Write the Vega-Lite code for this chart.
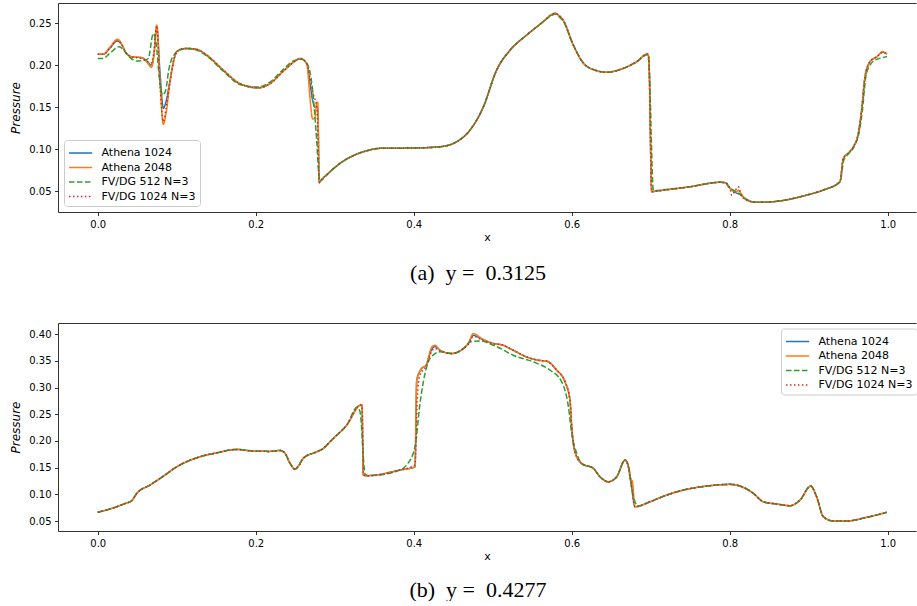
{
"$schema": "https://vega.github.io/schema/vega-lite/v6.json",
"background": "white",
"padding": {"left": 9, "top": 3, "right": 0, "bottom": 0},
"spacing": 111,
"bounds": "flush",
"config": {
  "view": {"stroke": null},
  "font": "DejaVu Sans",
  "axis": {"domainColor": "#000", "domainWidth": 0.8, "tickColor": "#000", "tickWidth": 0.8, "tickSize": 3.5, "labelFont": "DejaVu Sans", "labelFontSize": 10, "labelColor": "#000", "labelPadding": 3.5, "grid": false, "titleFont": "DejaVu Sans", "titleFontWeight": "normal", "titleFontSize": 11, "titleColor": "#000", "labelFlush": false},
  "legend": {"symbolType": "M-1,0H1.9", "symbolStrokeWidth": 1.5, "symbolSize": 256, "labelFont": "DejaVu Sans", "labelFontSize": 11, "labelColor": "#000", "padding": 4, "strokeColor": "#cccccc", "fillColor": "rgba(255,255,255,0.8)", "cornerRadius": 3, "rowPadding": 0.5, "labelOffset": 15.5}
},
"datasets": {
"a": [
{"s":"A1","x":0,"y":0.213},{"s":"A1","x":0.007,"y":0.213},{"s":"A1","x":0.015,"y":0.220},{"s":"A1","x":0.025,"y":0.229},{"s":"A1","x":0.030,"y":0.225},{"s":"A1","x":0.035,"y":0.216},{"s":"A1","x":0.043,"y":0.210},{"s":"A1","x":0.050,"y":0.2095},{"s":"A1","x":0.056,"y":0.209},{"s":"A1","x":0.062,"y":0.205},{"s":"A1","x":0.068,"y":0.200},{"s":"A1","x":0.071,"y":0.212},{"s":"A1","x":0.0747,"y":0.245},{"s":"A1","x":0.0789,"y":0.19},{"s":"A1","x":0.083,"y":0.1486},{"s":"A1","x":0.086,"y":0.155},{"s":"A1","x":0.0915,"y":0.182},{"s":"A1","x":0.096,"y":0.205},{"s":"A1","x":0.101,"y":0.217},{"s":"A1","x":0.113,"y":0.220},{"s":"A1","x":0.125,"y":0.219},{"s":"A1","x":0.138,"y":0.212},{"s":"A1","x":0.159,"y":0.194},{"s":"A1","x":0.180,"y":0.178},{"s":"A1","x":0.203,"y":0.173},{"s":"A1","x":0.218,"y":0.178},{"s":"A1","x":0.235,"y":0.193},{"s":"A1","x":0.250,"y":0.205},{"s":"A1","x":0.256,"y":0.208},{"s":"A1","x":0.2646,"y":0.202},{"s":"A1","x":0.2687,"y":0.178},{"s":"A1","x":0.272,"y":0.158},{"s":"A1","x":0.275,"y":0.150},{"s":"A1","x":0.2772,"y":0.150},{"s":"A1","x":0.2785,"y":0.148},{"s":"A1","x":0.2805,"y":0.060},
{"s":"A1","x":0.283,"y":0.063},{"s":"A1","x":0.294,"y":0.073},{"s":"A1","x":0.3067,"y":0.083},{"s":"A1","x":0.323,"y":0.092},{"s":"A1","x":0.3405,"y":0.098},{"s":"A1","x":0.3573,"y":0.1009},{"s":"A1","x":0.3995,"y":0.1013},{"s":"A1","x":0.4333,"y":0.1028},{"s":"A1","x":0.4544,"y":0.1088},{"s":"A1","x":0.4713,"y":0.1227},{"s":"A1","x":0.488,"y":0.150},{"s":"A1","x":0.505,"y":0.1943},{"s":"A1","x":0.522,"y":0.218},{"s":"A1","x":0.543,"y":0.236},{"s":"A1","x":0.564,"y":0.252},{"s":"A1","x":0.574,"y":0.260},{"s":"A1","x":0.5789,"y":0.262},{"s":"A1","x":0.584,"y":0.259},{"s":"A1","x":0.589,"y":0.254},{"s":"A1","x":0.602,"y":0.224},{"s":"A1","x":0.615,"y":0.2023},{"s":"A1","x":0.630,"y":0.194},{"s":"A1","x":0.644,"y":0.1916},{"s":"A1","x":0.6653,"y":0.1963},{"s":"A1","x":0.6823,"y":0.2042},{"s":"A1","x":0.6957,"y":0.2134},
{"s":"A1","x":0.6975,"y":0.210},{"s":"A1","x":0.7013,"y":0.0492},{"s":"A1","x":0.7076,"y":0.050},{"s":"A1","x":0.7497,"y":0.0551},{"s":"A1","x":0.7877,"y":0.0604},{"s":"A1","x":0.7941,"y":0.060},{"s":"A1","x":0.8003,"y":0.0532},{"s":"A1","x":0.8088,"y":0.0475},{"s":"A1","x":0.8135,"y":0.046},{"s":"A1","x":0.8215,"y":0.0393},{"s":"A1","x":0.834,"y":0.0365},{"s":"A1","x":0.855,"y":0.0373},{"s":"A1","x":0.8975,"y":0.0452},{"s":"A1","x":0.9185,"y":0.0512},{"s":"A1","x":0.9396,"y":0.0611},{"s":"A1","x":0.9438,"y":0.089},{"s":"A1","x":0.950,"y":0.095},{"s":"A1","x":0.9565,"y":0.1028},{"s":"A1","x":0.9628,"y":0.1188},{"s":"A1","x":0.967,"y":0.1466},{"s":"A1","x":0.9713,"y":0.1863},{"s":"A1","x":0.9776,"y":0.2042},{"s":"A1","x":0.986,"y":0.210},{"s":"A1","x":0.9937,"y":0.2155},{"s":"A1","x":0.999,"y":0.2134},

{"s":"A2","x":0,"y":0.213},{"s":"A2","x":0.007,"y":0.213},{"s":"A2","x":0.015,"y":0.221},{"s":"A2","x":0.025,"y":0.231},{"s":"A2","x":0.030,"y":0.226},{"s":"A2","x":0.035,"y":0.216},{"s":"A2","x":0.043,"y":0.210},{"s":"A2","x":0.050,"y":0.2095},{"s":"A2","x":0.056,"y":0.209},{"s":"A2","x":0.062,"y":0.204},{"s":"A2","x":0.068,"y":0.1975},{"s":"A2","x":0.071,"y":0.210},{"s":"A2","x":0.0747,"y":0.248},{"s":"A2","x":0.0789,"y":0.180},{"s":"A2","x":0.083,"y":0.1295},{"s":"A2","x":0.086,"y":0.140},{"s":"A2","x":0.0915,"y":0.180},{"s":"A2","x":0.096,"y":0.205},{"s":"A2","x":0.101,"y":0.217},{"s":"A2","x":0.113,"y":0.220},{"s":"A2","x":0.125,"y":0.219},{"s":"A2","x":0.138,"y":0.212},{"s":"A2","x":0.159,"y":0.194},{"s":"A2","x":0.180,"y":0.178},{"s":"A2","x":0.203,"y":0.173},{"s":"A2","x":0.218,"y":0.178},{"s":"A2","x":0.235,"y":0.193},{"s":"A2","x":0.250,"y":0.205},{"s":"A2","x":0.256,"y":0.208},{"s":"A2","x":0.2646,"y":0.202},{"s":"A2","x":0.2687,"y":0.1606},{"s":"A2","x":0.272,"y":0.136},{"s":"A2","x":0.275,"y":0.138},{"s":"A2","x":0.2772,"y":0.1558},{"s":"A2","x":0.2785,"y":0.1558},{"s":"A2","x":0.2805,"y":0.060},
{"s":"A2","x":0.283,"y":0.063},{"s":"A2","x":0.294,"y":0.073},{"s":"A2","x":0.3067,"y":0.083},{"s":"A2","x":0.323,"y":0.092},{"s":"A2","x":0.3405,"y":0.098},{"s":"A2","x":0.3573,"y":0.1009},{"s":"A2","x":0.3995,"y":0.1013},{"s":"A2","x":0.4333,"y":0.1028},{"s":"A2","x":0.4544,"y":0.1088},{"s":"A2","x":0.4713,"y":0.1227},{"s":"A2","x":0.488,"y":0.150},{"s":"A2","x":0.505,"y":0.1943},{"s":"A2","x":0.522,"y":0.218},{"s":"A2","x":0.543,"y":0.236},{"s":"A2","x":0.564,"y":0.252},{"s":"A2","x":0.574,"y":0.260},{"s":"A2","x":0.5789,"y":0.262},{"s":"A2","x":0.584,"y":0.259},{"s":"A2","x":0.589,"y":0.254},{"s":"A2","x":0.602,"y":0.224},{"s":"A2","x":0.615,"y":0.2023},{"s":"A2","x":0.630,"y":0.194},{"s":"A2","x":0.644,"y":0.1916},{"s":"A2","x":0.6653,"y":0.1963},{"s":"A2","x":0.6823,"y":0.2042},{"s":"A2","x":0.6957,"y":0.2134},
{"s":"A2","x":0.6975,"y":0.210},{"s":"A2","x":0.7013,"y":0.0492},{"s":"A2","x":0.7076,"y":0.050},{"s":"A2","x":0.7497,"y":0.0551},{"s":"A2","x":0.7877,"y":0.0604},{"s":"A2","x":0.7941,"y":0.060},{"s":"A2","x":0.8003,"y":0.0532},{"s":"A2","x":0.8088,"y":0.0492},{"s":"A2","x":0.811,"y":0.051},{"s":"A2","x":0.8135,"y":0.048},{"s":"A2","x":0.8215,"y":0.0393},{"s":"A2","x":0.834,"y":0.0365},{"s":"A2","x":0.855,"y":0.0373},{"s":"A2","x":0.8975,"y":0.0452},{"s":"A2","x":0.9185,"y":0.0512},{"s":"A2","x":0.9396,"y":0.0611},{"s":"A2","x":0.9438,"y":0.089},{"s":"A2","x":0.950,"y":0.095},{"s":"A2","x":0.9565,"y":0.1028},{"s":"A2","x":0.9628,"y":0.1188},{"s":"A2","x":0.967,"y":0.1466},{"s":"A2","x":0.9713,"y":0.1863},{"s":"A2","x":0.9776,"y":0.2042},{"s":"A2","x":0.986,"y":0.210},{"s":"A2","x":0.9937,"y":0.2161},{"s":"A2","x":0.999,"y":0.2134},

{"s":"G5","x":0,"y":0.208},{"s":"G5","x":0.007,"y":0.208},{"s":"G5","x":0.015,"y":0.214},{"s":"G5","x":0.027,"y":0.222},{"s":"G5","x":0.033,"y":0.218},{"s":"G5","x":0.040,"y":0.210},{"s":"G5","x":0.050,"y":0.205},{"s":"G5","x":0.058,"y":0.2055},{"s":"G5","x":0.064,"y":0.208},{"s":"G5","x":0.0704,"y":0.238},{"s":"G5","x":0.074,"y":0.225},{"s":"G5","x":0.078,"y":0.185},{"s":"G5","x":0.082,"y":0.1645},{"s":"G5","x":0.086,"y":0.170},{"s":"G5","x":0.090,"y":0.195},{"s":"G5","x":0.097,"y":0.213},{"s":"G5","x":0.105,"y":0.219},{"s":"G5","x":0.113,"y":0.220},{"s":"G5","x":0.125,"y":0.218},{"s":"G5","x":0.138,"y":0.211},{"s":"G5","x":0.159,"y":0.193},{"s":"G5","x":0.180,"y":0.177},{"s":"G5","x":0.203,"y":0.174},{"s":"G5","x":0.218,"y":0.180},{"s":"G5","x":0.235,"y":0.195},{"s":"G5","x":0.250,"y":0.206},{"s":"G5","x":0.258,"y":0.207},{"s":"G5","x":0.264,"y":0.203},{"s":"G5","x":0.268,"y":0.195},{"s":"G5","x":0.272,"y":0.170},{"s":"G5","x":0.2765,"y":0.120},{"s":"G5","x":0.281,"y":0.062},
{"s":"G5","x":0.283,"y":0.063},{"s":"G5","x":0.294,"y":0.073},{"s":"G5","x":0.3067,"y":0.083},{"s":"G5","x":0.323,"y":0.092},{"s":"G5","x":0.3405,"y":0.098},{"s":"G5","x":0.3573,"y":0.1009},{"s":"G5","x":0.3995,"y":0.1013},{"s":"G5","x":0.4333,"y":0.1028},{"s":"G5","x":0.4544,"y":0.1088},{"s":"G5","x":0.4713,"y":0.1227},{"s":"G5","x":0.488,"y":0.150},{"s":"G5","x":0.505,"y":0.1943},{"s":"G5","x":0.522,"y":0.218},{"s":"G5","x":0.543,"y":0.236},{"s":"G5","x":0.564,"y":0.252},{"s":"G5","x":0.574,"y":0.259},{"s":"G5","x":0.5789,"y":0.261},{"s":"G5","x":0.584,"y":0.258},{"s":"G5","x":0.589,"y":0.253},{"s":"G5","x":0.602,"y":0.224},{"s":"G5","x":0.615,"y":0.2023},{"s":"G5","x":0.630,"y":0.194},{"s":"G5","x":0.644,"y":0.1916},{"s":"G5","x":0.6653,"y":0.1963},{"s":"G5","x":0.6823,"y":0.2042},{"s":"G5","x":0.6957,"y":0.2125},
{"s":"G5","x":0.6975,"y":0.205},{"s":"G5","x":0.7035,"y":0.050},{"s":"G5","x":0.7076,"y":0.0505},{"s":"G5","x":0.7497,"y":0.0551},{"s":"G5","x":0.7877,"y":0.0604},{"s":"G5","x":0.7941,"y":0.060},{"s":"G5","x":0.8003,"y":0.054},{"s":"G5","x":0.8088,"y":0.049},{"s":"G5","x":0.8215,"y":0.040},{"s":"G5","x":0.834,"y":0.0365},{"s":"G5","x":0.855,"y":0.0373},{"s":"G5","x":0.8975,"y":0.0452},{"s":"G5","x":0.9185,"y":0.0512},{"s":"G5","x":0.9396,"y":0.0611},{"s":"G5","x":0.9445,"y":0.087},{"s":"G5","x":0.951,"y":0.095},{"s":"G5","x":0.9575,"y":0.103},{"s":"G5","x":0.9638,"y":0.120},{"s":"G5","x":0.968,"y":0.1466},{"s":"G5","x":0.9723,"y":0.1863},{"s":"G5","x":0.9776,"y":0.200},{"s":"G5","x":0.986,"y":0.207},{"s":"G5","x":0.9937,"y":0.209},{"s":"G5","x":0.999,"y":0.2103},

{"s":"R1","x":0,"y":0.213},{"s":"R1","x":0.007,"y":0.213},{"s":"R1","x":0.015,"y":0.220},{"s":"R1","x":0.025,"y":0.229},{"s":"R1","x":0.030,"y":0.225},{"s":"R1","x":0.035,"y":0.216},{"s":"R1","x":0.043,"y":0.210},{"s":"R1","x":0.050,"y":0.209},{"s":"R1","x":0.056,"y":0.208},{"s":"R1","x":0.062,"y":0.205},{"s":"R1","x":0.068,"y":0.203},{"s":"R1","x":0.071,"y":0.215},{"s":"R1","x":0.0747,"y":0.247},{"s":"R1","x":0.0789,"y":0.175},{"s":"R1","x":0.083,"y":0.1327},{"s":"R1","x":0.086,"y":0.145},{"s":"R1","x":0.0915,"y":0.180},{"s":"R1","x":0.096,"y":0.205},{"s":"R1","x":0.101,"y":0.217},{"s":"R1","x":0.113,"y":0.220},{"s":"R1","x":0.125,"y":0.219},{"s":"R1","x":0.138,"y":0.212},{"s":"R1","x":0.159,"y":0.194},{"s":"R1","x":0.180,"y":0.178},{"s":"R1","x":0.203,"y":0.173},{"s":"R1","x":0.218,"y":0.178},{"s":"R1","x":0.235,"y":0.193},{"s":"R1","x":0.250,"y":0.205},{"s":"R1","x":0.256,"y":0.208},{"s":"R1","x":0.2646,"y":0.202},{"s":"R1","x":0.2687,"y":0.185},{"s":"R1","x":0.273,"y":0.165},{"s":"R1","x":0.2775,"y":0.150},{"s":"R1","x":0.2805,"y":0.060},
{"s":"R1","x":0.283,"y":0.063},{"s":"R1","x":0.294,"y":0.073},{"s":"R1","x":0.3067,"y":0.083},{"s":"R1","x":0.323,"y":0.092},{"s":"R1","x":0.3405,"y":0.098},{"s":"R1","x":0.3573,"y":0.1009},{"s":"R1","x":0.3995,"y":0.1013},{"s":"R1","x":0.4333,"y":0.1028},{"s":"R1","x":0.4544,"y":0.1088},{"s":"R1","x":0.4713,"y":0.1227},{"s":"R1","x":0.488,"y":0.150},{"s":"R1","x":0.505,"y":0.1943},{"s":"R1","x":0.522,"y":0.218},{"s":"R1","x":0.543,"y":0.236},{"s":"R1","x":0.564,"y":0.252},{"s":"R1","x":0.574,"y":0.260},{"s":"R1","x":0.5789,"y":0.262},{"s":"R1","x":0.584,"y":0.259},{"s":"R1","x":0.589,"y":0.254},{"s":"R1","x":0.602,"y":0.224},{"s":"R1","x":0.615,"y":0.2023},{"s":"R1","x":0.630,"y":0.194},{"s":"R1","x":0.644,"y":0.1916},{"s":"R1","x":0.6653,"y":0.1963},{"s":"R1","x":0.6823,"y":0.2042},{"s":"R1","x":0.6957,"y":0.2134},
{"s":"R1","x":0.6975,"y":0.210},{"s":"R1","x":0.7013,"y":0.0492},{"s":"R1","x":0.7076,"y":0.050},{"s":"R1","x":0.7497,"y":0.0551},{"s":"R1","x":0.7877,"y":0.0604},{"s":"R1","x":0.7941,"y":0.060},{"s":"R1","x":0.8003,"y":0.0532},{"s":"R1","x":0.8025,"y":0.045},{"s":"R1","x":0.8065,"y":0.050},{"s":"R1","x":0.811,"y":0.055},{"s":"R1","x":0.815,"y":0.044},{"s":"R1","x":0.8215,"y":0.0393},{"s":"R1","x":0.834,"y":0.0365},{"s":"R1","x":0.855,"y":0.0373},{"s":"R1","x":0.8975,"y":0.0452},{"s":"R1","x":0.9185,"y":0.0512},{"s":"R1","x":0.9396,"y":0.0611},{"s":"R1","x":0.9438,"y":0.089},{"s":"R1","x":0.950,"y":0.095},{"s":"R1","x":0.9565,"y":0.1028},{"s":"R1","x":0.9628,"y":0.1188},{"s":"R1","x":0.967,"y":0.1466},{"s":"R1","x":0.9713,"y":0.1863},{"s":"R1","x":0.9776,"y":0.2042},{"s":"R1","x":0.986,"y":0.210},{"s":"R1","x":0.9937,"y":0.2155},{"s":"R1","x":0.999,"y":0.2134}
],
"b": [
{"s":"A1","x":0,"y":0.0663},{"s":"A1","x":0.012,"y":0.071},{"s":"A1","x":0.024,"y":0.0768},{"s":"A1","x":0.035,"y":0.083},{"s":"A1","x":0.043,"y":0.088},{"s":"A1","x":0.0494,"y":0.1018},{"s":"A1","x":0.0662,"y":0.1174},{"s":"A1","x":0.083,"y":0.134},{"s":"A1","x":0.100,"y":0.1516},{"s":"A1","x":0.1295,"y":0.1704},{"s":"A1","x":0.1506,"y":0.1778},{"s":"A1","x":0.176,"y":0.1842},{"s":"A1","x":0.197,"y":0.181},{"s":"A1","x":0.218,"y":0.1805},{"s":"A1","x":0.2308,"y":0.1823},{"s":"A1","x":0.237,"y":0.177},{"s":"A1","x":0.2435,"y":0.158},{"s":"A1","x":0.2497,"y":0.1473},{"s":"A1","x":0.255,"y":0.155},{"s":"A1","x":0.260,"y":0.1674},{"s":"A1","x":0.2772,"y":0.1797},{"s":"A1","x":0.2856,"y":0.186},{"s":"A1","x":0.2919,"y":0.1954},{"s":"A1","x":0.2982,"y":0.2048},{"s":"A1","x":0.3152,"y":0.2297},{"s":"A1","x":0.332,"y":0.2671},{"s":"A1","x":0.3345,"y":0.268},{"s":"A1","x":0.3362,"y":0.1361},{"s":"A1","x":0.3405,"y":0.135},{"s":"A1","x":0.3827,"y":0.1455},{"s":"A1","x":0.4016,"y":0.1517},{"s":"A1","x":0.4038,"y":0.3139},{"s":"A1","x":0.410,"y":0.3358},{"s":"A1","x":0.4156,"y":0.342},{"s":"A1","x":0.4228,"y":0.372},{"s":"A1","x":0.427,"y":0.377},{"s":"A1","x":0.4333,"y":0.370},{"s":"A1","x":0.448,"y":0.3639},{"s":"A1","x":0.4628,"y":0.3732},{"s":"A1","x":0.469,"y":0.3826},{"s":"A1","x":0.4754,"y":0.398},{"s":"A1","x":0.486,"y":0.391},{"s":"A1","x":0.5008,"y":0.3826},{"s":"A1","x":0.5134,"y":0.3794},{"s":"A1","x":0.520,"y":0.3745},{"s":"A1","x":0.526,"y":0.370},{"s":"A1","x":0.543,"y":0.3575},{"s":"A1","x":0.5577,"y":0.3513},{"s":"A1","x":0.5684,"y":0.3496},{"s":"A1","x":0.581,"y":0.3326},{"s":"A1","x":0.5915,"y":0.3108},{"s":"A1","x":0.5978,"y":0.2765},{"s":"A1","x":0.600,"y":0.2265},{"s":"A1","x":0.604,"y":0.1797},{"s":"A1","x":0.6127,"y":0.158},{"s":"A1","x":0.6274,"y":0.1486},{"s":"A1","x":0.6358,"y":0.133},{"s":"A1","x":0.6463,"y":0.1236},{"s":"A1","x":0.657,"y":0.133},{"s":"A1","x":0.6675,"y":0.1642},{"s":"A1","x":0.6717,"y":0.1517},{"s":"A1","x":0.6745,"y":0.130},{"s":"A1","x":0.6801,"y":0.0768},{"s":"A1","x":0.699,"y":0.0861},{"s":"A1","x":0.7203,"y":0.0987},{"s":"A1","x":0.7413,"y":0.108},{"s":"A1","x":0.771,"y":0.1155},{"s":"A1","x":0.8003,"y":0.1187},{"s":"A1","x":0.813,"y":0.1155},{"s":"A1","x":0.830,"y":0.1018},{"s":"A1","x":0.8425,"y":0.0861},{"s":"A1","x":0.8595,"y":0.0818},{"s":"A1","x":0.8763,"y":0.0787},{"s":"A1","x":0.889,"y":0.0893},{"s":"A1","x":0.9025,"y":0.1155},{"s":"A1","x":0.910,"y":0.0955},{"s":"A1","x":0.9185,"y":0.058},{"s":"A1","x":0.931,"y":0.050},{"s":"A1","x":0.948,"y":0.050},{"s":"A1","x":0.9734,"y":0.0569},{"s":"A1","x":0.999,"y":0.0663},

{"s":"A2","x":0,"y":0.0663},{"s":"A2","x":0.012,"y":0.071},{"s":"A2","x":0.024,"y":0.0768},{"s":"A2","x":0.035,"y":0.083},{"s":"A2","x":0.043,"y":0.088},{"s":"A2","x":0.0494,"y":0.1018},{"s":"A2","x":0.0662,"y":0.1174},{"s":"A2","x":0.083,"y":0.134},{"s":"A2","x":0.100,"y":0.1516},{"s":"A2","x":0.1295,"y":0.1704},{"s":"A2","x":0.1506,"y":0.1778},{"s":"A2","x":0.176,"y":0.1842},{"s":"A2","x":0.197,"y":0.181},{"s":"A2","x":0.218,"y":0.1805},{"s":"A2","x":0.2308,"y":0.1823},{"s":"A2","x":0.237,"y":0.177},{"s":"A2","x":0.2435,"y":0.158},{"s":"A2","x":0.2497,"y":0.1473},{"s":"A2","x":0.255,"y":0.155},{"s":"A2","x":0.260,"y":0.1674},{"s":"A2","x":0.2772,"y":0.1797},{"s":"A2","x":0.2856,"y":0.186},{"s":"A2","x":0.2919,"y":0.1954},{"s":"A2","x":0.2982,"y":0.2048},{"s":"A2","x":0.3152,"y":0.2297},{"s":"A2","x":0.332,"y":0.2671},{"s":"A2","x":0.3345,"y":0.268},{"s":"A2","x":0.3362,"y":0.1361},{"s":"A2","x":0.3405,"y":0.135},{"s":"A2","x":0.3827,"y":0.1455},{"s":"A2","x":0.4016,"y":0.1517},{"s":"A2","x":0.4038,"y":0.3139},{"s":"A2","x":0.410,"y":0.3358},{"s":"A2","x":0.4156,"y":0.342},{"s":"A2","x":0.4228,"y":0.3762},{"s":"A2","x":0.427,"y":0.3794},{"s":"A2","x":0.4333,"y":0.370},{"s":"A2","x":0.448,"y":0.3639},{"s":"A2","x":0.4628,"y":0.3732},{"s":"A2","x":0.469,"y":0.3826},{"s":"A2","x":0.4754,"y":0.4013},{"s":"A2","x":0.486,"y":0.392},{"s":"A2","x":0.5008,"y":0.3826},{"s":"A2","x":0.5134,"y":0.3794},{"s":"A2","x":0.520,"y":0.3745},{"s":"A2","x":0.526,"y":0.370},{"s":"A2","x":0.543,"y":0.3575},{"s":"A2","x":0.5577,"y":0.3513},{"s":"A2","x":0.5684,"y":0.3496},{"s":"A2","x":0.581,"y":0.3326},{"s":"A2","x":0.5915,"y":0.3108},{"s":"A2","x":0.5978,"y":0.2765},{"s":"A2","x":0.600,"y":0.2265},{"s":"A2","x":0.604,"y":0.1797},{"s":"A2","x":0.6127,"y":0.158},{"s":"A2","x":0.6274,"y":0.1486},{"s":"A2","x":0.6358,"y":0.133},{"s":"A2","x":0.6463,"y":0.1236},{"s":"A2","x":0.657,"y":0.133},{"s":"A2","x":0.6675,"y":0.1642},{"s":"A2","x":0.6717,"y":0.1517},{"s":"A2","x":0.6745,"y":0.126},{"s":"A2","x":0.6765,"y":0.126},{"s":"A2","x":0.6801,"y":0.0768},{"s":"A2","x":0.699,"y":0.0861},{"s":"A2","x":0.7203,"y":0.0987},{"s":"A2","x":0.7413,"y":0.108},{"s":"A2","x":0.771,"y":0.1155},{"s":"A2","x":0.8003,"y":0.1187},{"s":"A2","x":0.813,"y":0.1155},{"s":"A2","x":0.830,"y":0.1018},{"s":"A2","x":0.8425,"y":0.0861},{"s":"A2","x":0.8595,"y":0.0818},{"s":"A2","x":0.8763,"y":0.0787},{"s":"A2","x":0.889,"y":0.0893},{"s":"A2","x":0.9025,"y":0.1155},{"s":"A2","x":0.910,"y":0.0955},{"s":"A2","x":0.9185,"y":0.058},{"s":"A2","x":0.931,"y":0.050},{"s":"A2","x":0.948,"y":0.050},{"s":"A2","x":0.9734,"y":0.0569},{"s":"A2","x":0.999,"y":0.0663},

{"s":"G5","x":0,"y":0.0663},{"s":"G5","x":0.012,"y":0.071},{"s":"G5","x":0.024,"y":0.0768},{"s":"G5","x":0.035,"y":0.083},{"s":"G5","x":0.043,"y":0.088},{"s":"G5","x":0.0494,"y":0.1018},{"s":"G5","x":0.0662,"y":0.1174},{"s":"G5","x":0.083,"y":0.134},{"s":"G5","x":0.100,"y":0.1516},{"s":"G5","x":0.1295,"y":0.1704},{"s":"G5","x":0.1506,"y":0.1778},{"s":"G5","x":0.176,"y":0.1842},{"s":"G5","x":0.197,"y":0.181},{"s":"G5","x":0.218,"y":0.1805},{"s":"G5","x":0.2308,"y":0.1823},{"s":"G5","x":0.237,"y":0.177},{"s":"G5","x":0.2435,"y":0.158},{"s":"G5","x":0.2497,"y":0.1473},{"s":"G5","x":0.255,"y":0.155},{"s":"G5","x":0.260,"y":0.1674},{"s":"G5","x":0.2772,"y":0.1797},{"s":"G5","x":0.2856,"y":0.186},{"s":"G5","x":0.2919,"y":0.1954},{"s":"G5","x":0.2982,"y":0.2048},{"s":"G5","x":0.3152,"y":0.2297},{"s":"G5","x":0.3285,"y":0.2634},{"s":"G5","x":0.332,"y":0.255},{"s":"G5","x":0.3385,"y":0.138},{"s":"G5","x":0.3425,"y":0.135},{"s":"G5","x":0.3827,"y":0.1455},{"s":"G5","x":0.391,"y":0.155},{"s":"G5","x":0.4016,"y":0.189},{"s":"G5","x":0.408,"y":0.271},{"s":"G5","x":0.4143,"y":0.3264},{"s":"G5","x":0.4206,"y":0.3545},{"s":"G5","x":0.4333,"y":0.367},{"s":"G5","x":0.448,"y":0.3639},{"s":"G5","x":0.4628,"y":0.373},{"s":"G5","x":0.4713,"y":0.3857},{"s":"G5","x":0.4839,"y":0.3875},{"s":"G5","x":0.5008,"y":0.3794},{"s":"G5","x":0.5093,"y":0.3738},{"s":"G5","x":0.526,"y":0.3607},{"s":"G5","x":0.5514,"y":0.3482},{"s":"G5","x":0.5726,"y":0.3326},{"s":"G5","x":0.5873,"y":0.3108},{"s":"G5","x":0.5958,"y":0.264},{"s":"G5","x":0.600,"y":0.214},{"s":"G5","x":0.6063,"y":0.177},{"s":"G5","x":0.6127,"y":0.157},{"s":"G5","x":0.6274,"y":0.1486},{"s":"G5","x":0.6358,"y":0.133},{"s":"G5","x":0.6463,"y":0.1236},{"s":"G5","x":0.657,"y":0.133},{"s":"G5","x":0.6675,"y":0.1642},{"s":"G5","x":0.6717,"y":0.155},{"s":"G5","x":0.676,"y":0.11},{"s":"G5","x":0.6843,"y":0.078},{"s":"G5","x":0.699,"y":0.0861},{"s":"G5","x":0.7203,"y":0.0987},{"s":"G5","x":0.7413,"y":0.108},{"s":"G5","x":0.771,"y":0.1155},{"s":"G5","x":0.8003,"y":0.1187},{"s":"G5","x":0.813,"y":0.1155},{"s":"G5","x":0.830,"y":0.1018},{"s":"G5","x":0.8425,"y":0.0861},{"s":"G5","x":0.8595,"y":0.0818},{"s":"G5","x":0.8763,"y":0.0787},{"s":"G5","x":0.889,"y":0.0893},{"s":"G5","x":0.9025,"y":0.1155},{"s":"G5","x":0.910,"y":0.0955},{"s":"G5","x":0.9185,"y":0.058},{"s":"G5","x":0.931,"y":0.050},{"s":"G5","x":0.948,"y":0.050},{"s":"G5","x":0.9734,"y":0.0569},{"s":"G5","x":0.999,"y":0.0663},

{"s":"R1","x":0,"y":0.0663},{"s":"R1","x":0.012,"y":0.071},{"s":"R1","x":0.024,"y":0.0768},{"s":"R1","x":0.035,"y":0.083},{"s":"R1","x":0.043,"y":0.088},{"s":"R1","x":0.0494,"y":0.1018},{"s":"R1","x":0.0662,"y":0.1174},{"s":"R1","x":0.083,"y":0.134},{"s":"R1","x":0.100,"y":0.1516},{"s":"R1","x":0.1295,"y":0.1704},{"s":"R1","x":0.1506,"y":0.1778},{"s":"R1","x":0.176,"y":0.1842},{"s":"R1","x":0.197,"y":0.181},{"s":"R1","x":0.218,"y":0.1805},{"s":"R1","x":0.2308,"y":0.1823},{"s":"R1","x":0.237,"y":0.177},{"s":"R1","x":0.2435,"y":0.158},{"s":"R1","x":0.2497,"y":0.1473},{"s":"R1","x":0.255,"y":0.155},{"s":"R1","x":0.260,"y":0.1674},{"s":"R1","x":0.2772,"y":0.1797},{"s":"R1","x":0.2856,"y":0.186},{"s":"R1","x":0.2919,"y":0.1954},{"s":"R1","x":0.2982,"y":0.2048},{"s":"R1","x":0.3152,"y":0.2297},{"s":"R1","x":0.332,"y":0.2671},{"s":"R1","x":0.3345,"y":0.266},{"s":"R1","x":0.3365,"y":0.1361},{"s":"R1","x":0.3405,"y":0.135},{"s":"R1","x":0.3827,"y":0.1455},{"s":"R1","x":0.4016,"y":0.155},{"s":"R1","x":0.4045,"y":0.28},{"s":"R1","x":0.4075,"y":0.322},{"s":"R1","x":0.4156,"y":0.340},{"s":"R1","x":0.4228,"y":0.368},{"s":"R1","x":0.427,"y":0.3735},{"s":"R1","x":0.4333,"y":0.369},{"s":"R1","x":0.448,"y":0.3639},{"s":"R1","x":0.4628,"y":0.3732},{"s":"R1","x":0.469,"y":0.381},{"s":"R1","x":0.4754,"y":0.396},{"s":"R1","x":0.486,"y":0.390},{"s":"R1","x":0.5008,"y":0.3826},{"s":"R1","x":0.5134,"y":0.3794},{"s":"R1","x":0.520,"y":0.3745},{"s":"R1","x":0.526,"y":0.370},{"s":"R1","x":0.543,"y":0.3575},{"s":"R1","x":0.5577,"y":0.3513},{"s":"R1","x":0.5684,"y":0.3496},{"s":"R1","x":0.581,"y":0.3326},{"s":"R1","x":0.5915,"y":0.3108},{"s":"R1","x":0.5978,"y":0.2765},{"s":"R1","x":0.600,"y":0.2265},{"s":"R1","x":0.604,"y":0.1797},{"s":"R1","x":0.6127,"y":0.158},{"s":"R1","x":0.6274,"y":0.1486},{"s":"R1","x":0.6358,"y":0.133},{"s":"R1","x":0.6463,"y":0.1236},{"s":"R1","x":0.657,"y":0.133},{"s":"R1","x":0.6675,"y":0.1642},{"s":"R1","x":0.6717,"y":0.1517},{"s":"R1","x":0.6745,"y":0.128},{"s":"R1","x":0.6801,"y":0.0768},{"s":"R1","x":0.699,"y":0.0861},{"s":"R1","x":0.7203,"y":0.0987},{"s":"R1","x":0.7413,"y":0.108},{"s":"R1","x":0.771,"y":0.1155},{"s":"R1","x":0.8003,"y":0.1187},{"s":"R1","x":0.813,"y":0.1155},{"s":"R1","x":0.830,"y":0.1018},{"s":"R1","x":0.8425,"y":0.0861},{"s":"R1","x":0.8595,"y":0.0818},{"s":"R1","x":0.8763,"y":0.0787},{"s":"R1","x":0.889,"y":0.0893},{"s":"R1","x":0.9025,"y":0.1155},{"s":"R1","x":0.910,"y":0.0955},{"s":"R1","x":0.9185,"y":0.058},{"s":"R1","x":0.931,"y":0.050},{"s":"R1","x":0.948,"y":0.050},{"s":"R1","x":0.9734,"y":0.0569},{"s":"R1","x":0.999,"y":0.0663}
]
},
"vconcat": [
{
  "width": 858, "height": 209,
  "data": {"name": "a"},
  "title": {"text": "(a)\u00a0 y = \u00a00.3125", "orient": "bottom", "font": "Liberation Serif", "fontSize": 22, "fontWeight": "normal", "color": "#000", "anchor": "middle", "dx": -9, "offset": 21},
  "layer": [
    {"mark": {"type": "line", "strokeWidth": 1.5, "clip": true, "interpolate": "monotone"},
     "encoding": {
       "x": {"field": "x", "type": "quantitative", "scale": {"domain": [-0.0503, 1.0358], "nice": false, "zero": false}, "axis": {"values": [0, 0.2, 0.4, 0.6, 0.8, 1.0], "format": ".1f", "title": "x", "titlePadding": 2}},
       "y": {"field": "y", "type": "quantitative", "scale": {"domain": [0.025, 0.2742], "nice": false, "zero": false}, "axis": {"values": [0.05, 0.10, 0.15, 0.20, 0.25], "format": ".2f", "title": "Pressure", "titleFontStyle": "italic", "titleFontSize": 12, "titlePadding": 6}},
       "color": {"field": "s", "type": "nominal", "scale": {"domain": ["A1", "A2", "G5", "R1"], "range": ["#1f77b4", "#ff7f0e", "#2ca02c", "#d62728"]}, "legend": {"title": null, "orient": "bottom-left", "offset": 6, "labelExpr": "datum.label == 'A1' ? 'Athena 1024' : datum.label == 'A2' ? 'Athena 2048' : datum.label == 'G5' ? 'FV/DG 512 N=3' : 'FV/DG 1024 N=3'"}},
       "strokeDash": {"field": "s", "type": "nominal", "scale": {"domain": ["A1", "A2", "G5", "R1"], "range": [[1, 0], [1, 0], [5.55, 2.4], [1.5, 2.475]]}, "legend": {"title": null, "orient": "bottom-left", "offset": 6, "labelExpr": "datum.label == 'A1' ? 'Athena 1024' : datum.label == 'A2' ? 'Athena 2048' : datum.label == 'G5' ? 'FV/DG 512 N=3' : 'FV/DG 1024 N=3'"}}
     }},
    {"mark": {"type": "point", "opacity": 0},
     "encoding": {"x": {"field": "x", "type": "quantitative", "scale": {"domain": [-0.0503, 1.0358], "nice": false, "zero": false}, "axis": {"orient": "top", "labels": false, "ticks": false, "title": null}}}}
  ],
  "resolve": {"axis": {"x": "independent"}}
},
{
  "width": 858, "height": 208,
  "data": {"name": "b"},
  "title": {"text": "(b)\u00a0 y = \u00a00.4277", "orient": "bottom", "font": "Liberation Serif", "fontSize": 22, "fontWeight": "normal", "color": "#000", "anchor": "middle", "dx": -9, "offset": 19},
  "layer": [
    {"mark": {"type": "line", "strokeWidth": 1.5, "clip": true, "interpolate": "monotone"},
     "encoding": {
       "x": {"field": "x", "type": "quantitative", "scale": {"domain": [-0.0503, 1.0358], "nice": false, "zero": false}, "axis": {"values": [0, 0.2, 0.4, 0.6, 0.8, 1.0], "format": ".1f", "title": "x", "titlePadding": 2}},
       "y": {"field": "y", "type": "quantitative", "scale": {"domain": [0.0313, 0.4211], "nice": false, "zero": false}, "axis": {"values": [0.05, 0.10, 0.15, 0.20, 0.25, 0.30, 0.35, 0.40], "format": ".2f", "title": "Pressure", "titleFontStyle": "italic", "titleFontSize": 12, "titlePadding": 6}},
       "color": {"field": "s", "type": "nominal", "scale": {"domain": ["A1", "A2", "G5", "R1"], "range": ["#1f77b4", "#ff7f0e", "#2ca02c", "#d62728"]}, "legend": {"title": null, "orient": "none", "legendX": 723, "legendY": 5.5, "labelExpr": "datum.label == 'A1' ? 'Athena 1024' : datum.label == 'A2' ? 'Athena 2048' : datum.label == 'G5' ? 'FV/DG 512 N=3' : 'FV/DG 1024 N=3'"}},
       "strokeDash": {"field": "s", "type": "nominal", "scale": {"domain": ["A1", "A2", "G5", "R1"], "range": [[1, 0], [1, 0], [5.55, 2.4], [1.5, 2.475]]}, "legend": {"title": null, "orient": "none", "legendX": 723, "legendY": 5.5, "labelExpr": "datum.label == 'A1' ? 'Athena 1024' : datum.label == 'A2' ? 'Athena 2048' : datum.label == 'G5' ? 'FV/DG 512 N=3' : 'FV/DG 1024 N=3'"}}
     }},
    {"mark": {"type": "point", "opacity": 0},
     "encoding": {"x": {"field": "x", "type": "quantitative", "scale": {"domain": [-0.0503, 1.0358], "nice": false, "zero": false}, "axis": {"orient": "top", "labels": false, "ticks": false, "title": null}}}}
  ],
  "resolve": {"axis": {"x": "independent"}}
}
],
"resolve": {"scale": {"color": "independent", "strokeDash": "independent"}}
}
